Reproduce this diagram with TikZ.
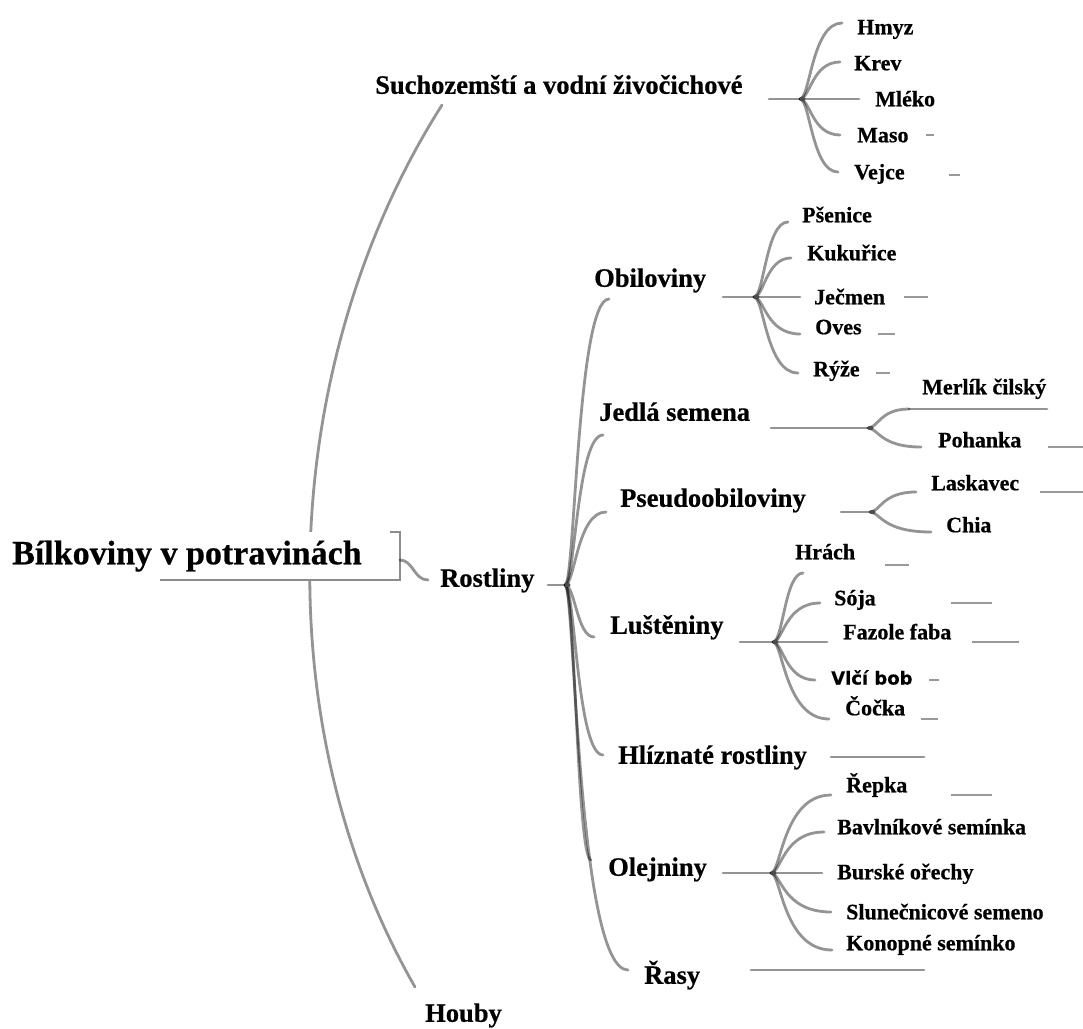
\documentclass[tikz,border=0pt]{standalone}
\usepackage{fontspec}
\setmainfont{Liberation Serif}[BoldFeatures={FakeBold=0.6}]
\newfontfamily\vlcfont{DejaVu Sans}[BoldFeatures={FakeBold=0.3}]
\usetikzlibrary{calc}
\begin{document}
\begin{tikzpicture}[x=1pt,y=-1pt,
  br/.style={draw=black,draw opacity=0.42,line width=2.8pt,line cap=round},
  stub/.style={draw=black,draw opacity=0.4,line width=2.6pt},
  knot/.style={fill=black!70},
  lbl/.style={inner sep=0pt,anchor=west,text depth=0pt},
  tz/.style={lbl,font=\fontsize{34}{34}\selectfont\bfseries,text height=22.5pt},
  tj/.style={lbl,font=\fontsize{26.5}{26.5}\selectfont\bfseries,text height=17.5pt},
  tt/.style={lbl,font=\fontsize{22}{22}\selectfont\bfseries,text height=14.5pt},
  tv/.style={lbl,font=\vlcfont\fontsize{18}{18}\selectfont\bfseries,text height=13pt}]
\newcommand\mmbr[2]{\draw[br] (#1) .. controls ($(#1)+(10,0)$) and ($(#1 |- #2)+(12,0)$) .. (#2);}
\newcommand\mmknot[1]{\fill[knot] ($(#1)+(2.5,0)$) ellipse (3pt and 2.2pt);}
\useasboundingbox (0,0) rectangle (1083,1028);
\fill[white] (0,0) rectangle (1083,1028);
% main arc
\coordinate (suchL) at (442,105);
\coordinate (houbyT) at (415,987);
\draw[br] (suchL) .. controls (280,360) and (262,720) .. (houbyT);
% root box
\fill[white] (150,532) rectangle (400,580);
\draw[black!45,line width=2pt] (390,532) -- (400,532) -- (400,580) -- (160,580);
\node[tz] (root) at (12,553) {Bílkoviny v potravinách};
\coordinate (rootR) at (400,560);
\coordinate (rostL) at (428,580);
\draw[br] (rootR) .. controls (413,560) and (414,580) .. (rostL);
% level 1
\node[tj] (such) at (375,85) {Suchozemští a vodní živočichové};
\node[tj] (houby) at (425,1013) {Houby};
\node[tj] (rost) at (440,578) {Rostliny};
% animals
\coordinate (suchR) at (769,99);
\coordinate (jA) at (800,99);
\draw[br] (suchR) -- (jA);
\coordinate (eHmyz) at (842,23);
\coordinate (eKrev) at (840,62);
\coordinate (eMleko) at (859,99);
\coordinate (eMaso) at (840,135);
\coordinate (eVejce) at (838,172);
\mmbr{jA}{eHmyz}\mmbr{jA}{eKrev}\mmbr{jA}{eMaso}\mmbr{jA}{eVejce}
\draw[br] (jA) -- (eMleko);
\mmknot{jA}
\node[tt] (hmyz) at (857,27) {Hmyz};
\node[tt] (krev) at (854,63) {Krev};
\node[tt] (mleko) at (875,99) {Mléko};
\node[tt] (maso) at (857,135) {Maso};
\node[tt] (vejce) at (854,172) {Vejce};
\draw[stub] (926,135) -- (934,135);
\draw[stub] (949,175) -- (960,175);
% plants trunk
\coordinate (rostR) at (548,585);
\coordinate (jR) at (565,585);
\draw[br] (rostR) -- (jR);
\coordinate (eObil) at (609,299);
\coordinate (eJedla) at (603,435);
\coordinate (ePseudo) at (606,512);
\coordinate (eLust) at (594,637);
\coordinate (eHliz) at (603,755);
\coordinate (eOlej) at (591,860);
\coordinate (eRasy) at (628,970);
\mmbr{jR}{eObil}\mmbr{jR}{eJedla}\mmbr{jR}{ePseudo}\mmbr{jR}{eLust}
\mmbr{jR}{eHliz}\mmbr{jR}{eOlej}\mmbr{jR}{eRasy}
\mmknot{jR}
\node[tj] (obil) at (594,278) {Obiloviny};
\node[tj] (jedla) at (599,412) {Jedlá semena};
\node[tj] (pseudo) at (620,498) {Pseudoobiloviny};
\node[tj] (lust) at (610,625) {Luštěniny};
\node[tj] (hliz) at (618,755) {Hlíznaté rostliny};
\node[tj] (olej) at (608,867) {Olejniny};
\node[tj] (rasy) at (644,975) {Řasy};
% cereals
\coordinate (obilR) at (723,297);
\coordinate (jO) at (754,297);
\draw[br] (obilR) -- (jO);
\coordinate (ePsen) at (788,222);
\coordinate (eKuk) at (791,258);
\coordinate (eJecm) at (800,297);
\coordinate (eOves) at (800,334);
\coordinate (eRyze) at (798,373);
\mmbr{jO}{ePsen}\mmbr{jO}{eKuk}\mmbr{jO}{eOves}\mmbr{jO}{eRyze}
\draw[br] (jO) -- (eJecm);
\mmknot{jO}
\node[tt] (psen) at (802,215) {Pšenice};
\node[tt] (kuk) at (807,253) {Kukuřice};
\node[tt] (jecm) at (814,297) {Ječmen};
\node[tt] (oves) at (815,327) {Oves};
\node[tt] (ryze) at (813,369) {Rýže};
\draw[stub] (904,297) -- (928,297);
\draw[stub] (878,334) -- (895,334);
\draw[stub] (876,373) -- (890,373);
% edible seeds
\coordinate (jedlaR) at (771,428);
\coordinate (jJ) at (868,428);
\draw[br] (jedlaR) -- (jJ);
\coordinate (eMerl) at (909,409);
\coordinate (eMerl2) at (1047,409);
\coordinate (ePoh) at (921,447);
\mmbr{jJ}{eMerl}\mmbr{jJ}{ePoh}
\draw[br] (eMerl) -- (eMerl2);
\mmknot{jJ}
\node[tt] (merl) at (922,387) {Merlík čilský};
\node[tt] (poh) at (938,440) {Pohanka};
\draw[stub] (1048,447) -- (1083,447);
% pseudocereals
\coordinate (pseudoR) at (841,512);
\coordinate (jP) at (870,512);
\draw[br] (pseudoR) -- (jP);
\coordinate (eLask) at (916,492);
\coordinate (eChia) at (931,532);
\mmbr{jP}{eLask}\mmbr{jP}{eChia}
\mmknot{jP}
\node[tt] (lask) at (931,483) {Laskavec};
\node[tt] (chia) at (946,525) {Chia};
\draw[stub] (1040,492) -- (1083,492);
% legumes
\coordinate (lustR) at (740,642);
\coordinate (jL) at (773,642);
\draw[br] (lustR) -- (jL);
\coordinate (eHrach) at (803,573);
\coordinate (eSoja) at (820,603);
\coordinate (eFaz) at (827,642);
\coordinate (eVlci) at (815,680);
\coordinate (eCoc) at (829,719);
\mmbr{jL}{eHrach}\mmbr{jL}{eSoja}\mmbr{jL}{eVlci}\mmbr{jL}{eCoc}
\draw[br] (jL) -- (eFaz);
\mmknot{jL}
\node[tt] (hrach) at (795,552) {Hrách};
\node[tt] (soja) at (834,598) {Sója};
\node[tt] (faz) at (843,632) {Fazole faba};
\node[tv] (vlci) at (831,678) {Vlčí bob};
\node[tt] (coc) at (845,708) {Čočka};
\draw[stub] (885,565) -- (909,565);
\draw[stub] (951,603) -- (992,603);
\draw[stub] (972,642) -- (1019,642);
\draw[stub] (929,680) -- (939,680);
\draw[stub] (921,719) -- (938,719);
% tubers
\coordinate (hlizA) at (831,757);
\coordinate (hlizB) at (924,757);
\draw[br] (hlizA) -- (hlizB);
% oilseeds
\coordinate (olejR) at (723,873);
\coordinate (jOl) at (771,873);
\draw[br] (olejR) -- (jOl);
\coordinate (eRep) at (831,795);
\coordinate (eBav) at (824,832);
\coordinate (eBur) at (822,873);
\coordinate (eSlun) at (831,912);
\coordinate (eKon) at (832,950);
\mmbr{jOl}{eRep}\mmbr{jOl}{eBav}\mmbr{jOl}{eSlun}\mmbr{jOl}{eKon}
\draw[br] (jOl) -- (eBur);
\mmknot{jOl}
\node[tt] (rep) at (846,785) {Řepka};
\node[tt] (bav) at (837,827) {Bavlníkové semínka};
\node[tt] (bur) at (837,872) {Burské ořechy};
\node[tt] (slun) at (846,912) {Slunečnicové semeno};
\node[tt] (kon) at (846,943) {Konopné semínko};
\draw[stub] (951,795) -- (992,795);
% algae
\coordinate (rasyA) at (751,970);
\coordinate (rasyB) at (924,970);
\draw[br] (rasyA) -- (rasyB);
\end{tikzpicture}
\end{document}
